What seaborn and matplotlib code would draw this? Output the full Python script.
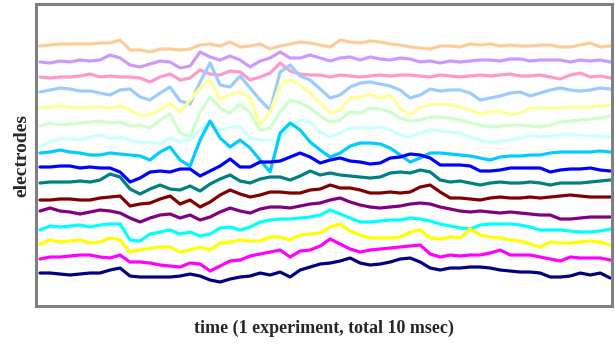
import numpy as np
import pandas as pd
import matplotlib
matplotlib.use("Agg")
import matplotlib.pyplot as plt
import seaborn as sns

# sample times (msec), one experiment of 10 msec
time_ms = np.linspace(0.07, 9.97, 58)

# traces (display offset units, larger = lower on the chart)
e01 = [46,45,44,44,44,44,43,43,40,50,50,52,49,49,50,49,45,44,46,42,47,46,44,49,46,44,42,43,45,47,40,42,43,41,42,44,45,47,48,49,46,46,47,44,45,44,46,45,46,46,45,45,47,47,45,43,47,46]
e02 = [62,63,61,62,60,61,60,55,58,65,67,64,61,62,68,66,52,57,60,56,60,67,61,58,52,58,58,55,58,61,58,57,60,57,59,60,58,59,62,61,63,61,62,61,60,60,61,59,59,61,60,60,60,62,60,61,60,62]
e03 = [77,78,77,77,76,74,77,76,77,77,78,82,77,74,80,78,70,74,75,71,72,80,77,73,63,71,74,75,75,77,75,76,77,76,75,76,75,75,76,77,75,76,77,76,75,76,75,74,76,76,75,77,79,75,73,77,76,78]
e04 = [92,90,88,89,91,91,93,95,90,89,97,100,93,87,101,104,82,63,85,87,76,88,100,110,72,65,76,80,89,98,95,87,83,82,84,86,90,98,95,89,91,90,90,93,100,98,96,93,92,96,93,90,88,90,91,90,88,89]
e05 = [108,107,106,107,108,107,107,108,106,110,116,115,110,103,112,100,88,80,100,95,92,98,125,112,85,80,85,93,103,113,110,98,97,94,98,95,108,115,107,105,104,105,107,110,114,112,111,115,113,108,108,108,108,107,107,107,106,105]
e06 = [126,123,125,124,123,122,121,123,122,126,125,128,120,114,133,137,112,97,108,113,104,113,130,128,112,100,103,108,116,122,120,112,113,108,109,112,118,121,120,117,117,118,120,123,125,127,126,125,125,126,127,125,122,121,120,119,118,116]
e07 = [147,142,139,139,140,137,135,138,137,140,143,142,144,138,142,140,130,122,130,127,127,138,140,140,140,127,120,122,132,137,133,128,128,128,127,130,135,137,133,130,131,132,133,137,140,143,141,140,138,136,137,136,135,135,135,136,136,137]
e08 = [153,152,150,152,153,155,155,153,154,155,156,160,152,147,160,166,140,121,138,147,140,148,160,172,133,123,130,142,150,157,153,146,143,143,144,148,155,162,158,153,153,154,155,156,158,160,157,156,156,155,155,153,152,152,152,152,151,152]
e09 = [167,167,166,166,168,167,168,168,172,182,178,172,171,172,169,169,176,171,166,159,167,167,162,162,161,157,153,157,163,160,158,161,162,164,163,158,157,154,155,158,165,165,165,166,171,171,170,168,168,168,168,172,170,169,169,168,170,171]
e10 = [183,182,182,182,181,182,180,174,177,189,194,189,185,189,190,186,191,184,179,175,181,183,179,177,177,180,176,171,175,173,175,176,177,178,177,173,172,173,170,172,180,182,181,183,185,183,182,183,183,182,183,185,183,183,183,182,181,180]
e11 = [200,200,199,199,200,200,198,197,196,206,204,203,199,196,204,200,207,202,195,190,194,197,195,192,192,193,193,190,189,185,188,188,190,193,193,192,193,192,187,185,192,198,198,199,200,198,197,198,198,197,198,197,196,195,196,197,197,197]
e12 = [211,208,211,212,214,212,210,211,213,218,222,218,215,214,218,215,220,217,212,208,211,213,209,207,207,208,206,204,203,200,198,202,205,207,208,207,206,204,203,204,207,209,211,212,211,212,213,212,213,214,215,215,219,219,218,217,217,217]
e13 = [230,226,227,226,225,227,225,224,224,240,241,234,232,230,234,232,236,234,228,227,230,227,222,220,219,219,218,217,215,210,214,218,222,222,221,220,220,218,219,221,224,226,228,229,225,224,224,224,225,227,230,230,230,231,232,232,231,229]
e14 = [244,240,242,241,240,243,242,238,240,252,250,248,247,247,252,250,247,250,243,242,240,241,241,237,237,240,235,234,233,227,224,231,235,238,238,238,237,232,230,238,239,237,238,229,235,237,238,240,241,244,247,242,243,243,242,241,242,245]
e15 = [259,257,257,256,255,255,257,258,255,262,262,263,265,266,267,263,264,271,266,261,260,256,254,252,250,257,251,250,246,239,244,249,252,250,249,248,247,246,245,254,257,255,256,255,255,253,250,255,255,255,257,259,261,257,258,258,258,260]
e16 = [273,273,274,275,274,273,273,270,268,276,277,277,277,277,276,274,276,280,282,279,277,276,273,275,272,277,270,267,264,263,261,258,263,265,264,262,259,258,262,268,270,268,268,267,267,268,270,271,272,272,273,277,277,276,273,275,273,278]

electrode_names = ["E1", "E2", "E3", "E4", "E5", "E6", "E7", "E8",
                   "E9", "E10", "E11", "E12", "E13", "E14", "E15", "E16"]
electrode_colors = ["#FFCC99", "#CC99FF", "#FF99CC", "#99CCFF", "#FFFF99", "#CCFFCC",
                    "#CCFFFF", "#00CCFF", "#0000FF", "#008080", "#800000", "#800080",
                    "#00FFFF", "#FFFF00", "#FF00FF", "#000080"]
traces = [e01, e02, e03, e04, e05, e06, e07, e08, e09, e10, e11, e12, e13, e14, e15, e16]

frames = []
for name, vals in zip(electrode_names, traces):
    frames.append(pd.DataFrame({"time": time_ms, "signal": vals, "electrode": name}))
df = pd.concat(frames, ignore_index=True)

sns.set_theme(style="white")
plt.rcParams["font.family"] = ["Liberation Serif", "DejaVu Serif"]

fig = plt.figure(figsize=(6.15, 3.46), dpi=100)
ax = fig.add_axes([0.0585, 0.117, 0.9366, 0.870])

sns.lineplot(data=df, x="time", y="signal", hue="electrode",
             hue_order=electrode_names,
             palette=dict(zip(electrode_names, electrode_colors)),
             linewidth=2.3, legend=False, ax=ax, estimator=None, sort=False)

ax.set_xlim(0, 10)
ax.set_ylim(305.5, 4.5)
ax.set_xticks([])
ax.set_yticks([])
for sp in ax.spines.values():
    sp.set_visible(True)
    sp.set_color("#808080")
    sp.set_linewidth(2.2)

ax.set_xlabel("time (1 experiment, total 10 msec)", fontsize=13, fontweight="bold",
              labelpad=10)
ax.set_ylabel("electrodes", fontsize=14, fontweight="bold", labelpad=4)

fig.savefig("out.png", dpi=100)
